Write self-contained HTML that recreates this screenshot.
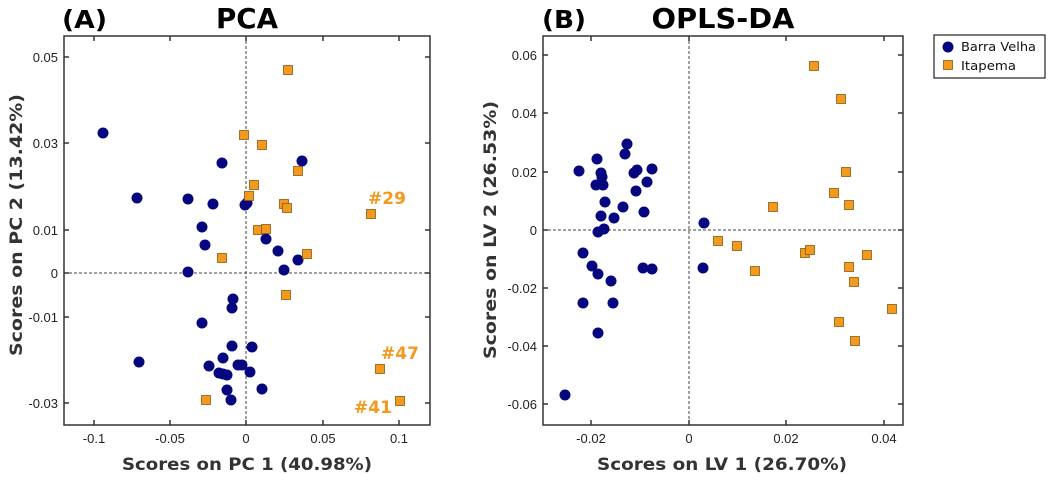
<!DOCTYPE html><html><head><style>body{margin:0;background:#fff}</style></head><body>
<svg width="1048" height="478" xmlns="http://www.w3.org/2000/svg" font-family="Liberation Sans, sans-serif">
<defs><g id="c"><circle r="5.5" fill="#06067f"/></g><g id="s"><rect x="-4.5" y="-4.5" width="9" height="9" fill="#f39a1e" stroke="#8a5a10" stroke-width="0.8"/></g></defs>
<!-- Panel A -->
<text x="62" y="28" font-size="25" font-weight="bold" font-family="DejaVu Sans, sans-serif" textLength="45" lengthAdjust="spacingAndGlyphs">(A)</text>
<text x="247" y="28" font-size="28" font-weight="bold" font-family="DejaVu Sans, sans-serif" text-anchor="middle" textLength="62" lengthAdjust="spacingAndGlyphs">PCA</text>
<g stroke="#444" stroke-width="1" stroke-dasharray="3,2"><line x1="246" y1="36" x2="246" y2="425"/><line x1="64" y1="273" x2="430" y2="273"/></g>
<rect x="64" y="36" width="366" height="389" fill="none" stroke="#333" stroke-width="1.5"/>
<g stroke="#333" stroke-width="1.5">
<line x1="94" y1="425" x2="94" y2="420"/><line x1="170" y1="425" x2="170" y2="420"/><line x1="246" y1="425" x2="246" y2="420"/><line x1="323" y1="425" x2="323" y2="420"/><line x1="399" y1="425" x2="399" y2="420"/>
<line x1="94" y1="36" x2="94" y2="41"/><line x1="170" y1="36" x2="170" y2="41"/><line x1="246" y1="36" x2="246" y2="41"/><line x1="323" y1="36" x2="323" y2="41"/><line x1="399" y1="36" x2="399" y2="41"/>
<line x1="64" y1="57" x2="69" y2="57"/><line x1="64" y1="143" x2="69" y2="143"/><line x1="64" y1="230" x2="69" y2="230"/><line x1="64" y1="273" x2="69" y2="273"/><line x1="64" y1="317" x2="69" y2="317"/><line x1="64" y1="403" x2="69" y2="403"/>
<line x1="430" y1="57" x2="425" y2="57"/><line x1="430" y1="143" x2="425" y2="143"/><line x1="430" y1="230" x2="425" y2="230"/><line x1="430" y1="273" x2="425" y2="273"/><line x1="430" y1="317" x2="425" y2="317"/><line x1="430" y1="403" x2="425" y2="403"/>
</g>
<g font-size="13" fill="#222" text-anchor="middle"><text x="94" y="443">-0.1</text><text x="170" y="443">-0.05</text><text x="246" y="443">0</text><text x="323" y="443">0.05</text><text x="399" y="443">0.1</text></g>
<g font-size="13" fill="#222" text-anchor="end"><text x="58" y="62">0.05</text><text x="58" y="148">0.03</text><text x="58" y="235">0.01</text><text x="58" y="278">0</text><text x="58" y="322">-0.01</text><text x="58" y="408">-0.03</text></g>
<text x="247" y="470" font-size="17" font-weight="bold" font-family="DejaVu Sans, sans-serif" fill="#333" text-anchor="middle" textLength="250" lengthAdjust="spacingAndGlyphs">Scores on PC 1 (40.98%)</text>
<text transform="translate(22,225) rotate(-90)" font-size="17" font-weight="bold" font-family="DejaVu Sans, sans-serif" fill="#333" text-anchor="middle" textLength="262" lengthAdjust="spacingAndGlyphs">Scores on PC 2 (13.42%)</text>
<g>
<use href="#c" x="103" y="133"/><use href="#c" x="222" y="163"/><use href="#c" x="302" y="161"/><use href="#c" x="137" y="198"/><use href="#c" x="188" y="199"/><use href="#c" x="213" y="204"/><use href="#c" x="247" y="203"/><use href="#c" x="245" y="205"/><use href="#c" x="202" y="227"/><use href="#c" x="266" y="239"/><use href="#c" x="205" y="245"/><use href="#c" x="278" y="251"/><use href="#c" x="298" y="260"/><use href="#c" x="188" y="272"/><use href="#c" x="284" y="270"/><use href="#c" x="233" y="299"/><use href="#c" x="232" y="308"/><use href="#c" x="202" y="323"/><use href="#c" x="232" y="346"/><use href="#c" x="252" y="347"/><use href="#c" x="139" y="362"/><use href="#c" x="223" y="358"/><use href="#c" x="209" y="366"/><use href="#c" x="238" y="365"/><use href="#c" x="242" y="365"/><use href="#c" x="219" y="373"/><use href="#c" x="227" y="375"/><use href="#c" x="250" y="372"/><use href="#c" x="227" y="390"/><use href="#c" x="262" y="389"/><use href="#c" x="231" y="400"/><use href="#c" x="223" y="374"/>
<use href="#s" x="288" y="70"/><use href="#s" x="244" y="135"/><use href="#s" x="262" y="145"/><use href="#s" x="298" y="171"/><use href="#s" x="254" y="185"/><use href="#s" x="249" y="196"/><use href="#s" x="284" y="204"/><use href="#s" x="287" y="208"/><use href="#s" x="371" y="214"/><use href="#s" x="258" y="230"/><use href="#s" x="266" y="229"/><use href="#s" x="222" y="258"/><use href="#s" x="307" y="254"/><use href="#s" x="286" y="295"/><use href="#s" x="380" y="369"/><use href="#s" x="206" y="400"/><use href="#s" x="400" y="401"/>
</g>
<g font-size="17" font-weight="bold" font-family="DejaVu Sans, sans-serif" fill="#f39a1e" text-anchor="middle"><text x="387" y="204">#29</text><text x="400" y="359">#47</text><text x="373" y="413">#41</text></g>
<!-- Panel B -->
<text x="542" y="28" font-size="25" font-weight="bold" font-family="DejaVu Sans, sans-serif" textLength="44" lengthAdjust="spacingAndGlyphs">(B)</text>
<text x="723" y="28" font-size="28" font-weight="bold" font-family="DejaVu Sans, sans-serif" text-anchor="middle" textLength="143" lengthAdjust="spacingAndGlyphs">OPLS-DA</text>
<g stroke="#444" stroke-width="1" stroke-dasharray="3,2"><line x1="689" y1="36" x2="689" y2="425"/><line x1="543" y1="230" x2="903" y2="230"/></g>
<rect x="543" y="36" width="360" height="389" fill="none" stroke="#333" stroke-width="1.5"/>
<g stroke="#333" stroke-width="1.5">
<line x1="591" y1="425" x2="591" y2="420"/><line x1="689" y1="425" x2="689" y2="420"/><line x1="786" y1="425" x2="786" y2="420"/><line x1="884" y1="425" x2="884" y2="420"/>
<line x1="591" y1="36" x2="591" y2="41"/><line x1="689" y1="36" x2="689" y2="41"/><line x1="786" y1="36" x2="786" y2="41"/><line x1="884" y1="36" x2="884" y2="41"/>
<line x1="543" y1="55" x2="548" y2="55"/><line x1="543" y1="113" x2="548" y2="113"/><line x1="543" y1="172" x2="548" y2="172"/><line x1="543" y1="230" x2="548" y2="230"/><line x1="543" y1="288" x2="548" y2="288"/><line x1="543" y1="346" x2="548" y2="346"/><line x1="543" y1="404" x2="548" y2="404"/>
<line x1="903" y1="55" x2="898" y2="55"/><line x1="903" y1="113" x2="898" y2="113"/><line x1="903" y1="172" x2="898" y2="172"/><line x1="903" y1="230" x2="898" y2="230"/><line x1="903" y1="288" x2="898" y2="288"/><line x1="903" y1="346" x2="898" y2="346"/><line x1="903" y1="404" x2="898" y2="404"/>
</g>
<g font-size="13" fill="#222" text-anchor="middle"><text x="591" y="443">-0.02</text><text x="689" y="443">0</text><text x="786" y="443">0.02</text><text x="884" y="443">0.04</text></g>
<g font-size="13" fill="#222" text-anchor="end"><text x="537" y="60">0.06</text><text x="537" y="118">0.04</text><text x="537" y="177">0.02</text><text x="537" y="235">0</text><text x="537" y="293">-0.02</text><text x="537" y="351">-0.04</text><text x="537" y="409">-0.06</text></g>
<text x="722" y="470" font-size="17" font-weight="bold" font-family="DejaVu Sans, sans-serif" fill="#333" text-anchor="middle" textLength="250" lengthAdjust="spacingAndGlyphs">Scores on LV 1 (26.70%)</text>
<text transform="translate(496,230) rotate(-90)" font-size="17" font-weight="bold" font-family="DejaVu Sans, sans-serif" fill="#333" text-anchor="middle" textLength="258" lengthAdjust="spacingAndGlyphs">Scores on LV 2 (26.53%)</text>
<g>
<use href="#c" x="579" y="171"/><use href="#c" x="597" y="159"/><use href="#c" x="627" y="144"/><use href="#c" x="625" y="154"/><use href="#c" x="601" y="173"/><use href="#c" x="602" y="177"/><use href="#c" x="596" y="185"/><use href="#c" x="603" y="185"/><use href="#c" x="634" y="173"/><use href="#c" x="637" y="170"/><use href="#c" x="652" y="169"/><use href="#c" x="647" y="182"/><use href="#c" x="636" y="191"/><use href="#c" x="605" y="202"/><use href="#c" x="623" y="207"/><use href="#c" x="601" y="216"/><use href="#c" x="614" y="218"/><use href="#c" x="644" y="212"/><use href="#c" x="604" y="229"/><use href="#c" x="598" y="232"/><use href="#c" x="704" y="223"/><use href="#c" x="583" y="253"/><use href="#c" x="592" y="266"/><use href="#c" x="598" y="274"/><use href="#c" x="611" y="281"/><use href="#c" x="643" y="268"/><use href="#c" x="652" y="269"/><use href="#c" x="703" y="268"/><use href="#c" x="583" y="303"/><use href="#c" x="613" y="303"/><use href="#c" x="598" y="333"/><use href="#c" x="565" y="395"/>
<use href="#s" x="814" y="66"/><use href="#s" x="841" y="99"/><use href="#s" x="846" y="172"/><use href="#s" x="834" y="193"/><use href="#s" x="849" y="205"/><use href="#s" x="773" y="207"/><use href="#s" x="718" y="241"/><use href="#s" x="737" y="246"/><use href="#s" x="755" y="271"/><use href="#s" x="805" y="253"/><use href="#s" x="810" y="250"/><use href="#s" x="867" y="255"/><use href="#s" x="849" y="267"/><use href="#s" x="854" y="282"/><use href="#s" x="892" y="309"/><use href="#s" x="839" y="322"/><use href="#s" x="855" y="341"/>
</g>
<!-- Legend -->
<rect x="934" y="35" width="111" height="43" fill="#fff" stroke="#222" stroke-width="1.2"/>
<use href="#c" x="948" y="47"/><text x="961" y="51" font-size="12.5" fill="#111" font-family="DejaVu Sans, sans-serif" textLength="75" lengthAdjust="spacingAndGlyphs">Barra Velha</text>
<use href="#s" x="948" y="65"/><text x="961" y="70" font-size="12.5" fill="#111" font-family="DejaVu Sans, sans-serif" textLength="55" lengthAdjust="spacingAndGlyphs">Itapema</text>
</svg></body></html>
